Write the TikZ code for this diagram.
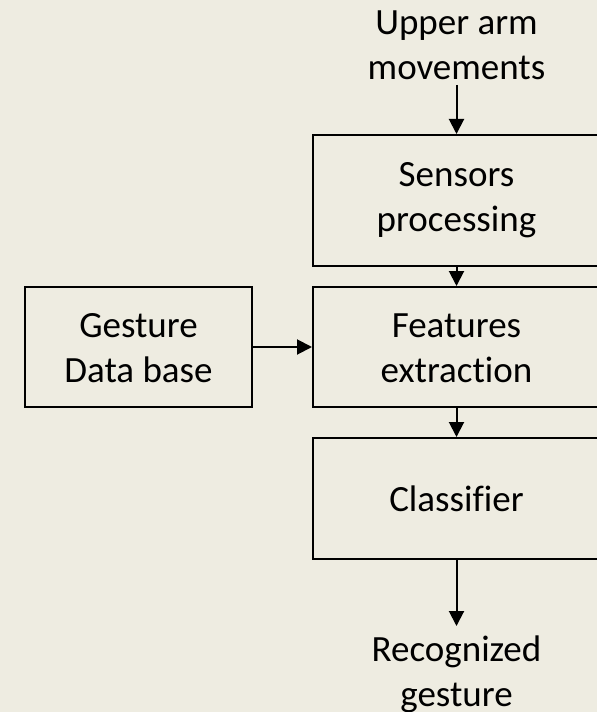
\documentclass[tikz,border=0pt]{standalone}
\usepackage{fontspec}
\setmainfont{Carlito}[Ligatures={NoCommon,NoRare,NoContextual}]
\usetikzlibrary{arrows.meta}
\definecolor{paper}{HTML}{EEECE1}
\tikzset{
  blockbox/.style={draw=black, line width=2bp, fill=paper, inner sep=0pt},
  label text/.style={align=center, inner sep=0pt, anchor=base, font=\fontsize{37bp}{45bp}\selectfont},
  flow/.style={draw=black, line width=2bp, -{Triangle[width=15bp,length=15bp]}}
}
\begin{document}
\begin{tikzpicture}[x=1bp, y=-1bp]
  \fill[paper] (0,0) rectangle (597,712);
  \useasboundingbox (0,0) rectangle (597,712);
  \begin{scope}
    \clip (0,0) rectangle (597,712);
    % processing chain
    \node[blockbox, minimum width=287bp, minimum height=131bp] (sens) at (456.5,200.5) {};
    \node[blockbox, minimum width=287bp, minimum height=120bp] (feat) at (456.5,347) {};
    \node[blockbox, minimum width=287bp, minimum height=121bp] (clas) at (456.5,498.5) {};
    \node[blockbox, minimum width=227bp, minimum height=120bp] (gdb) at (138.5,347) {};
  \end{scope}
  % block captions, placed by the baseline of their last line
  \node[label text] (senst) at (456.5,231) {Sensors\\processing};
  \node[label text] (featt) at (456.5,382) {Features\\extraction};
  \node[label text] (clast) at (456.5,511) {Classifier};
  \node[label text] (gdbt) at (138.5,382) {Gesture\\Data base};
  % inputs and output
  \node[label text] (arm) at (456.5,80) {Upper arm\\movements};
  \node[label text] (rec) at (456.5,706) {Recognized\\gesture};
  \coordinate (armout) at (456.5,85);
  \coordinate (recin) at (456.5,626);
  % connectors
  \draw[flow] (armout) -- (sens.north);
  \draw[flow] (sens.south) -- (feat.north);
  \draw[flow] (feat.south) -- (clas.north);
  \draw[flow] (clas.south) -- (recin);
  \draw[flow] (gdb.east) -- (feat.west);
\end{tikzpicture}
\end{document}
